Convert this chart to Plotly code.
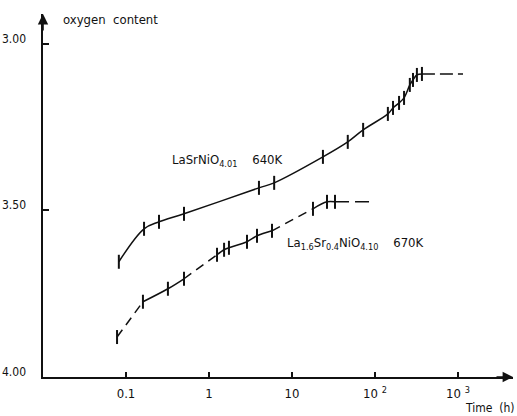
import math
import plotly.graph_objects as go

# ---- data ----
s1_time = [0.082, 0.165, 0.25, 0.5, 4.0, 6.1, 23.6, 47, 72, 143, 165, 195, 224, 263, 287, 320, 368]
s1_oxy = [3.654, 3.555, 3.534, 3.510, 3.432, 3.417, 3.339, 3.294, 3.258, 3.210, 3.192, 3.177, 3.162, 3.123, 3.108, 3.093, 3.090]
s1_plateau_time = [368, 1150]

s2_time = [0.078, 0.160, 0.32, 0.50, 1.25, 1.52, 1.74, 2.87, 3.79, 5.74, 17.9, 26.4, 33]
s2_oxy = [3.880, 3.774, 3.735, 3.705, 3.633, 3.618, 3.612, 3.594, 3.576, 3.561, 3.495, 3.474, 3.474]
s2_plateau_time = [33, 94.6]
# segments of series 2 (index ranges) drawn solid / broken
s2_solid = [(1, 3), (4, 9), (10, 12)]
s2_broken = [(0, 1), (3, 4), (9, 10)]

x_tickvals = [0.1, 1, 10, 100, 1000]
x_ticktext = ["0.1", "1", "10", "10 <sup>2</sup>", "10 <sup>3</sup>"]
y_tickvals = [3.00, 3.50, 4.00]
y_ticktext = ["3.00", "3.50", "4.00"]

FONT = "DejaVu Sans Condensed, Liberation Sans Narrow, Arial Narrow, sans-serif"
BLACK = "#111111"

fig = go.Figure()

# series 1 line
fig.add_trace(go.Scatter(x=s1_time, y=s1_oxy, mode="lines", line=dict(color=BLACK, width=1.5, shape="spline", smoothing=1.0), showlegend=False, hoverinfo="skip"))
fig.add_trace(go.Scatter(x=s1_plateau_time, y=[s1_oxy[-1]] * 2, mode="lines", line=dict(color=BLACK, width=1.5, dash="13px,5px"), showlegend=False, hoverinfo="skip"))
fig.add_trace(go.Scatter(x=s1_time, y=s1_oxy, mode="markers", marker=dict(symbol="line-ns", size=10, line=dict(color=BLACK, width=2)), showlegend=False))

# series 2 line pieces
for a, b in s2_solid:
    fig.add_trace(go.Scatter(x=s2_time[a:b + 1], y=s2_oxy[a:b + 1], mode="lines", line=dict(color=BLACK, width=1.5, shape="spline", smoothing=1.0), showlegend=False, hoverinfo="skip"))
for a, b in s2_broken:
    fig.add_trace(go.Scatter(x=s2_time[a:b + 1], y=s2_oxy[a:b + 1], mode="lines", line=dict(color=BLACK, width=1.5, dash="9px,6px"), showlegend=False, hoverinfo="skip"))
fig.add_trace(go.Scatter(x=s2_plateau_time, y=[s2_oxy[-1]] * 2, mode="lines", line=dict(color=BLACK, width=1.5, dash="14px,6px"), showlegend=False, hoverinfo="skip"))
fig.add_trace(go.Scatter(x=s2_time, y=s2_oxy, mode="markers", marker=dict(symbol="line-ns", size=10, line=dict(color=BLACK, width=2)), showlegend=False))

annotations = []
for v, t in zip(y_tickvals, y_ticktext):
    annotations.append(dict(x=0, xref="paper", y=v, yref="y", text=t, showarrow=False, xanchor="right", xshift=-15, yshift=5, font=dict(family=FONT, size=12, color=BLACK)))

# axis arrows
annotations.append(dict(x=0, y=1, xref="paper", yref="paper", ax=0, ay=18, text="", showarrow=True, arrowhead=2, arrowsize=1.3, arrowwidth=1.6, arrowcolor=BLACK, standoff=0))
annotations.append(dict(x=1, y=0, xref="paper", yref="paper", ax=-18, ay=0, text="", showarrow=True, arrowhead=2, arrowsize=1.3, arrowwidth=1.6, arrowcolor=BLACK, standoff=0))

annotations.append(dict(x=0, y=1, xref="paper", yref="paper", xshift=18, yshift=-5, text="oxygen  content", showarrow=False, xanchor="left", yanchor="middle", font=dict(family=FONT, size=13, color=BLACK)))
annotations.append(dict(x=1, y=0, xref="paper", yref="paper", xshift=4, yshift=-31, text="Time  (h)", showarrow=False, xanchor="right", yanchor="middle", font=dict(family=FONT, size=12, color=BLACK)))

annotations.append(dict(x=math.log10(0.339), y=3.351, xref="x", yref="y", text="LaSrNiO<sub>4.01</sub>&nbsp;&nbsp;&nbsp;&nbsp;640K", showarrow=False, xanchor="left", yanchor="middle", font=dict(family=FONT, size=13, color=BLACK)))
annotations.append(dict(x=math.log10(8.2), y=3.600, xref="x", yref="y", text="La<sub>1.6</sub>Sr<sub>0.4</sub>NiO<sub>4.10</sub>&nbsp;&nbsp;&nbsp;&nbsp;670K", showarrow=False, xanchor="left", yanchor="middle", font=dict(family=FONT, size=13, color=BLACK)))

fig.update_layout(
    width=517, height=416,
    margin=dict(l=43, r=4, t=14, b=39),
    paper_bgcolor="white", plot_bgcolor="white",
    showlegend=False,
    annotations=annotations,
    xaxis=dict(type="log", range=[-2.0, 3.663], tickvals=x_tickvals, ticktext=x_ticktext,
               ticks="inside", ticklen=5, tickwidth=1.5, tickcolor=BLACK,
               showline=True, linecolor=BLACK, linewidth=1.6, showgrid=False, zeroline=False,
               tickfont=dict(family=FONT, size=13, color=BLACK), ticklabelstandoff=4),
    yaxis=dict(range=[4.0, 2.91], tickvals=y_tickvals, showticklabels=False,
               ticks="inside", ticklen=6, tickwidth=1.5, tickcolor=BLACK,
               showline=True, linecolor=BLACK, linewidth=1.6, showgrid=False, zeroline=False),
)

# remove the browser's default 8px body margin so the 517x416 figure fills the window exactly
fig.write_html("out.html", config={"displayModeBar": False},
               post_script="document.body.style.margin='0';document.body.style.overflow='hidden';")
